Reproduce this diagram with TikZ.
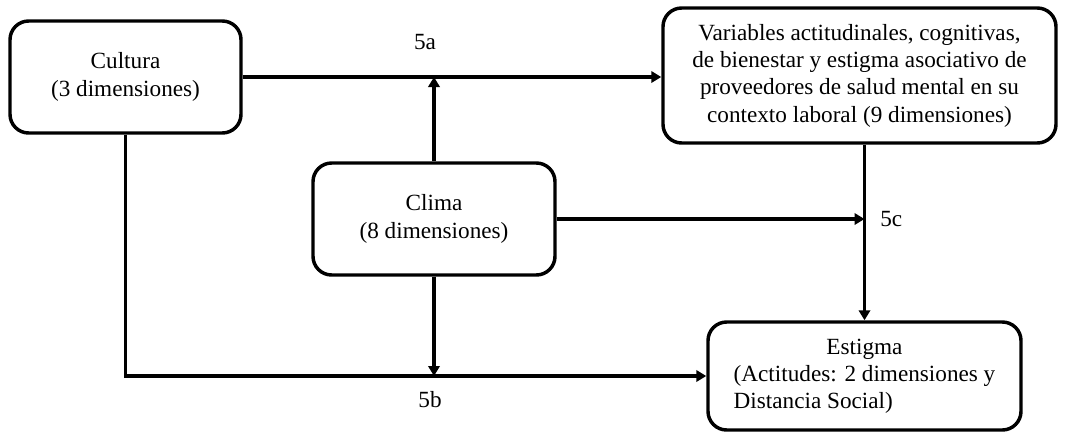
\documentclass[tikz,border=0pt]{standalone}
\usepackage{fontspec}
\setmainfont{Liberation Serif}
\usetikzlibrary{arrows.meta}
\begin{document}
\begin{tikzpicture}[x=0.75pt,y=-0.75pt,
  box/.style={draw, line width=2.6pt, rounded corners=14pt, align=center, inner sep=0pt,
    font=\fontsize{17.4}{20.5}\selectfont},
  conn/.style={line width=2.7pt},
  arr/.style={conn, -{Triangle[length=7.5pt,width=8.5pt]}},
  lbl/.style={font=\fontsize{17.4}{20.5}\selectfont, inner sep=0pt}]
\useasboundingbox (0,0) rectangle (1068,433);
\node[box, minimum width=231*0.75pt, minimum height=112*0.75pt] (cul) at (125.5,77) {Cultura\\(3 dimensiones)};
\node[box, minimum width=393*0.75pt, minimum height=135*0.75pt] (var) at (859.5,75.5) {Variables actitudinales, cognitivas,\\de bienestar y estigma asociativo de\\proveedores de salud mental en su\\contexto laboral (9 dimensiones)};
\node[box, minimum width=242*0.75pt, minimum height=112*0.75pt] (cli) at (434,219) {Clima\\(8 dimensiones)};
\node[box, minimum width=313*0.75pt, minimum height=108*0.75pt] (est) at (864.5,376) {\begin{tabular}{@{}l@{}}\multicolumn{1}{@{}c@{}}{Estigma}\\(Actitudes: 2 dimensiones y\\Distancia Social)\end{tabular}};
\node[lbl] (l5a) at (425,42) {5a};
\node[lbl] (l5b) at (430,400) {5b};
\node[lbl, anchor=west] (l5c) at (880,219) {5c};
\draw[arr] (cul.east) -- (cul.east -| var.west);
\draw[arr] (cli.north) -- (cli.north |- cul.east);
\draw[arr] (cli.east) -- (cli.east -| est.north);
\draw[arr] (est.north |- var.south) -- (est.north);
\draw[arr] (cli.south) -- (cli.south |- est.west);
\draw[arr] (cul.south) -- (cul.south |- est.west) -- (est.west);
\end{tikzpicture}
\end{document}
